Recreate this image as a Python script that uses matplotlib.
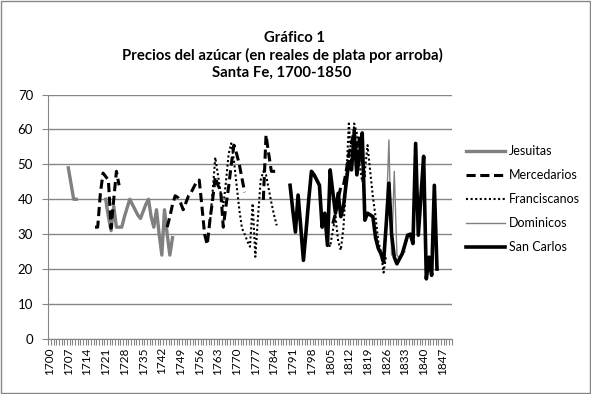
import numpy as np
import matplotlib
matplotlib.use("Agg")
import matplotlib.pyplot as plt
from matplotlib.patches import Rectangle

plt.rcParams['font.family'] = ['Lato', 'DejaVu Sans']

nan = np.nan

# Jesuitas
jes_years = [1707, 1708, 1709, 1710, 1711] + list(range(1721, 1747))
jes_vals = [49, 44.5, 40, 40, nan,
            40, 35, 31, 38, 32, 32, 32, 35, 37.5, 40, 38.5, 37, 35.5, 34.5,
            36.5, 38.5, 40, 35, 32, 37, 30, 24, 37, 30, 24, 29]

# Mercedarios
mer_years = (list(range(1717, 1727)) + [1727] + list(range(1744, 1774)) + [1774]
             + list(range(1780, 1786)) + [1786] + list(range(1806, 1819)))
mer_vals = ([32, 32, 41.7, 47.5, 46.5, 45.5, 31.7, 40, 48, 44, nan,
             32, 35, 38.5, 41, 40.5, 39, 37, 39, 41, 42, 43.5, 45, 45.5, 38, 30, 27,
             34, 39.8, 46.4, 44, 42.6, 32, 38, 43.6, 50, 55.5, 53, 50, 46, 42, nan,
             39.8, 58.4, 53, 48, 48, 48, nan,
             33, 36, 40, 43.6, 44, 48, 53, 56, 60, 52, 58, 50, 46])

# Franciscanos
fra_years = list(range(1760, 1786)) + [1786] + list(range(1803, 1827))
fra_vals = [33, 42, 52, 47, 42, 38, 45, 53, 56, 51, 44, 37, 31.7, 30, 28, 26.4,
            38.8, 23.5, 35, 45.5, 48, 47, 43, 39, 35.5, 32.5, nan,
            36, 28, 26.4, 31, 35, 28, 25.4, 32, 45.5, 61.7, 50, 61.7, 58.9, 50,
            45, 48, 55.5, 48, 40.7, 35, 28, 25, 19, 24]

# Dominicos
dom_years = list(range(1825, 1834))
dom_vals = [22, 35, 57, 24, 48, 24, 23, 24.5, 25]

# San Carlos
sc_years = list(range(1790, 1846))
sc_vals = [44, 37, 30.6, 41.2, 32, 22.5, 31, 40, 48, 47, 45.5, 44, 32, 36, 26.8,
           48.4, 42, 36, 41.7, 35, 38, 44.6, 50.8, 48.4, 59, 47, 53, 59, 34, 36,
           35.5, 35, 29, 26, 24.4, 22, 33, 44.6, 30, 23.4, 21.5, 23, 24.4, 27,
           29.7, 30, 27.3, 56, 29.7, 41, 52.3, 17.2, 23.4, 18.2, 44, 20]

fig = plt.figure(figsize=(5.91, 3.94), dpi=100)
ax = fig.add_axes([0.0817, 0.140, 0.6826, 0.620])

ax.plot(jes_years, jes_vals, color='#808080', lw=2.4, label='Jesuitas')
ax.plot(mer_years, mer_vals, color='black', lw=2.2, ls=(0, (3, 1.5)), label='Mercedarios')
ax.plot(fra_years, fra_vals, color='black', lw=1.5, ls=(0, (1, 1.2)), label='Franciscanos')
ax.plot(dom_years, dom_vals, color='#808080', lw=1.0, label='Dominicos')
ax.plot(sc_years, sc_vals, color='black', lw=2.6, label='San Carlos')

ax.set_xlim(1699.5, 1850.5)
ax.set_ylim(0, 70)
ax.set_yticks(range(0, 71, 10))
ax.yaxis.grid(True, color='#868686', lw=1)
ax.set_axisbelow(True)

label_years = list(range(1700, 1851, 7))
ax.set_xticks(label_years)
ax.set_xticklabels([str(y) for y in label_years], rotation=90, fontsize=8.5)
ax.set_xticks(np.arange(1699.5, 1851, 1), minor=True)
ax.tick_params(axis='x', which='major', length=0, pad=6)
ax.tick_params(axis='x', which='minor', length=4, color='#868686', width=0.8)
ax.tick_params(axis='y', length=4, color='#868686', labelsize=9.5, pad=7)

for s in ['top', 'right']:
    ax.spines[s].set_visible(False)
for s in ['left', 'bottom']:
    ax.spines[s].set_color('#868686')

fig.text(0.498, 0.903, 'Gráfico 1', ha='center', va='center', fontsize=10.7, fontweight='bold')
fig.text(0.477, 0.859, 'Precios del azúcar (en reales de plata por arroba)', ha='center',
         va='center', fontsize=10.7, fontweight='bold')
fig.text(0.477, 0.814, 'Santa Fe, 1700-1850', ha='center', va='center', fontsize=10.7,
         fontweight='bold')

fig.legend(loc='upper left', bbox_to_anchor=(0.789, 0.632), frameon=False,
           fontsize=9, handlelength=3.1, labelspacing=0.97, handletextpad=0.3,
           borderaxespad=0, borderpad=0)

fig.patches.append(Rectangle((0.001, 0.002), 0.997, 0.996, transform=fig.transFigure,
                             fill=False, ec='#868686', lw=1))

fig.savefig('out.png', dpi=100)
